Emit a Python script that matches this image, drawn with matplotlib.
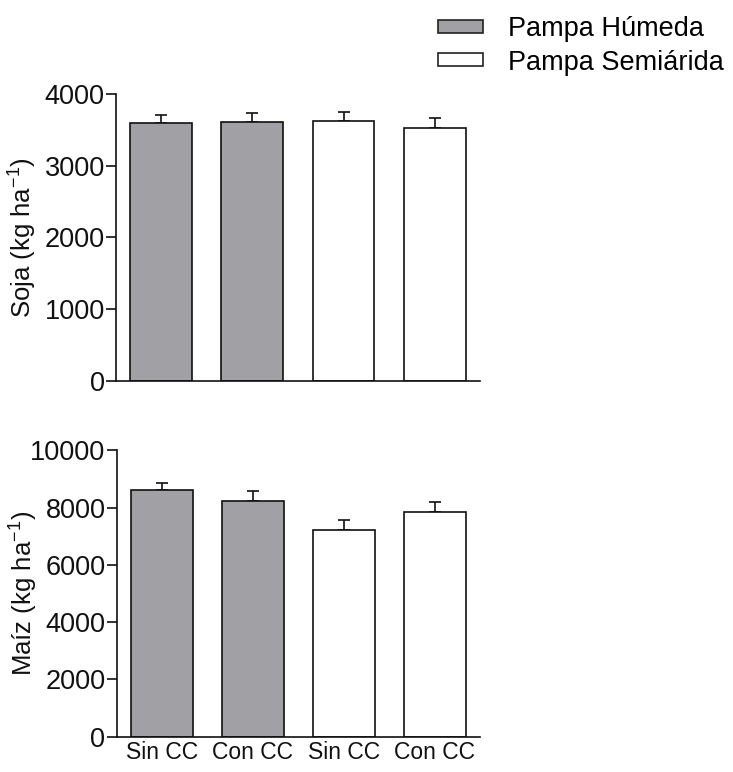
import matplotlib
matplotlib.use("Agg")
import matplotlib.pyplot as plt
from matplotlib.patches import Patch

plt.rcParams["font.family"] = ["Liberation Sans", "DejaVu Sans"]
plt.rcParams["mathtext.fontset"] = "custom"
plt.rcParams["mathtext.rm"] = "Liberation Sans"
plt.rcParams["mathtext.it"] = "Liberation Sans"
plt.rcParams["mathtext.default"] = "regular"

# datos
categorias = ["Sin CC", "Con CC", "Sin CC", "Con CC"]
regiones = ["Pampa Húmeda", "Pampa Húmeda", "Pampa Semiárida", "Pampa Semiárida"]
soja = [3590, 3610, 3615, 3520]
soja_err = [120, 120, 135, 140]
maiz = [8630, 8245, 7210, 7830]
maiz_err = [230, 350, 340, 350]

gris = "#a1a0a5"
colores = {"Pampa Húmeda": gris, "Pampa Semiárida": "white"}
bar_colors = [colores[r] for r in regiones]
x = list(range(len(categorias)))

fig = plt.figure(figsize=(7.33, 7.72), dpi=100)
ax1 = fig.add_axes([0.158, 0.5065, 0.497, 0.372])
ax2 = fig.add_axes([0.159, 0.0457, 0.496, 0.371])

def panel(ax, vals, errs, ymax, step, ylabel):
    ax.bar(x, vals, width=0.68, color=bar_colors, edgecolor="#111111", linewidth=1.2, zorder=2)
    ax.errorbar(x, vals, yerr=[[0] * len(errs), errs], fmt="none", ecolor="#111111",
                elinewidth=1.2, capsize=4.5, capthick=1.2, zorder=1)
    ax.set_xlim(-0.5, 3.5)
    ax.set_ylim(0, ymax)
    ax.set_yticks(range(0, ymax + 1, step))
    for s in ("top", "right"):
        ax.spines[s].set_visible(False)
    for s in ("left", "bottom"):
        ax.spines[s].set_linewidth(1.2)
        ax.spines[s].set_color("#111111")
    ax.tick_params(axis="y", direction="out", length=7, width=1.2, labelsize=19.5,
                   colors="#111111", pad=1)
    ax.set_ylabel(ylabel, fontsize=18.5, color="#111111")
    ax.yaxis.set_label_coords(-0.21, 0.5)

panel(ax1, soja, soja_err, 4000, 1000, "Soja (kg ha$^{-1}$)")
ax1.set_xticks([])
panel(ax2, maiz, maiz_err, 10000, 2000, "Maíz (kg ha$^{-1}$)")
ax2.set_xticks(x)
ax2.set_xticklabels(categorias)
ax2.tick_params(axis="x", length=0, labelsize=16.5, pad=3, colors="#111111")

handles = [Patch(facecolor=gris, edgecolor="#222222", linewidth=1.2, label="Pampa Húmeda"),
           Patch(facecolor="white", edgecolor="#222222", linewidth=1.2, label="Pampa Semiárida")]
fig.legend(handles=handles, loc="upper left", bbox_to_anchor=(0.5825, 0.993), frameon=False,
           fontsize=19.5, handlelength=1.67, handleheight=0.37, handletextpad=0.93,
           labelspacing=0.27, borderaxespad=0)

fig.savefig("out.png", dpi=100, facecolor="white")
